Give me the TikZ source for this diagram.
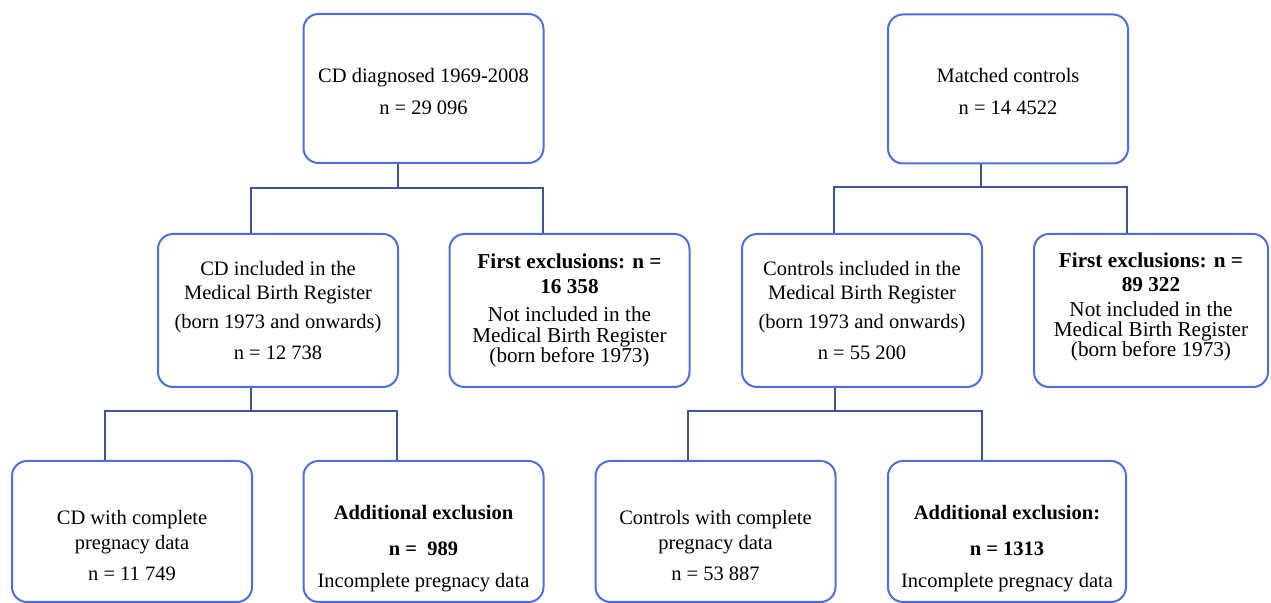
\documentclass[tikz,border=0pt]{standalone}
\usepackage{fontspec}
\setmainfont{Liberation Serif}
\usepackage{tikz}
\usetikzlibrary{positioning,calc}
\definecolor{FrameBlue}{RGB}{78,112,214}
\definecolor{LinkBlue}{RGB}{62,86,152}
\newcommand{\dropby}[1]{\rule{0pt}{#1}}

\begin{document}
\begin{tikzpicture}[x=0.5pt,y=-0.5pt,
  box/.style={draw=FrameBlue,line width=1pt,rounded corners=7.5pt,fill=white,
    align=center,minimum width=120pt,font=\fontsize{10.25}{12}\selectfont},
  link/.style={draw=LinkBlue,line width=1pt}]
  \useasboundingbox (0,0) rectangle (1271,603);
  % top row
  \node[box,minimum height=74.5pt] (cdall) at (423.5,88.5)
        {\dropby{10pt}CD diagnosed 1969-2008\\[4pt] n = 29 096};
  \node[box,minimum height=74.5pt] (ctrlall) at (1008,89)
        {\dropby{10pt}Matched controls\\[4pt] n = 14 4522};
  % middle row
  \node[box,minimum height=76.5pt] (cdmbr) at (278,310.5)
        {CD included in the\\ Medical Birth Register\\[2.5pt]
         (born 1973 and onwards)\\[3.5pt] n = 12 738};
  \node[box,minimum height=76.5pt,font=\fontsize{10.6}{12}\selectfont] (cdexcl) at (569.5,310.5)
        {\textbf{First exclusions: n =}\\[0.5pt] \textbf{16 358}\\[2pt]
         Not included in the\\[-1.8pt] Medical Birth Register\\[-1.8pt] (born before 1973)};
  \node[box,minimum height=76.5pt] (ctrlmbr) at (862,310.5)
        {Controls included in the\\ Medical Birth Register\\[2.5pt]
         (born 1973 and onwards)\\[3.5pt] n = 55 200};
  \node[box,minimum height=76.5pt,minimum width=117pt,font=\fontsize{10.6}{12}\selectfont] (ctrlexcl) at (1151,310.5)
        {\textbf{First exclusions: n =}\\ \textbf{89 322}\\[0.5pt]
         Not included in the\\[-2pt] Medical Birth Register\\[-2pt] (born before 1973)\\[-6pt]\mbox{}};
  % bottom row
  \node[box,minimum height=70.5pt] (cdfull) at (132,531.5)
        {\dropby{21pt}CD with complete\\[0.5pt] pregnacy data\\[3.5pt] n = 11 749};
  \node[box,minimum height=70.5pt] (cdmiss) at (423.5,531.5)
        {\dropby{24pt}\textbf{Additional exclusion}\\[6pt] \textbf{n =\ \ 989}\\[4pt]
         Incomplete pregnacy data};
  \node[box,minimum height=70.5pt] (ctrlfull) at (715.5,531.5)
        {\dropby{21pt}Controls with complete\\[0.5pt] pregnacy data\\[3.5pt] n = 53 887};
  \node[box,minimum height=70.5pt,minimum width=119pt] (ctrlmiss) at (1007,531.5)
        {\dropby{24pt}\textbf{Additional exclusion:}\\[6pt] \textbf{n = 1313}\\[4pt]
         Incomplete pregnacy data};
  % connectors
  \coordinate (cdjoin) at (398,188);
  \coordinate (cdbarL) at (251,188);
  \coordinate (cdbarR) at (543,188);
  \draw[link] (cdall.south -| cdjoin) -- (cdjoin);
  \draw[link] (cdmbr.north -| cdbarL) -- (cdbarL) -- (cdbarR) -- (cdexcl.north -| cdbarR);
  \coordinate (ctrljoin) at (981,187);
  \coordinate (ctrlbarL) at (834,187);
  \coordinate (ctrlbarR) at (1127,187);
  \draw[link] (ctrlall.south -| ctrljoin) -- (ctrljoin);
  \draw[link] (ctrlmbr.north -| ctrlbarL) -- (ctrlbarL) -- (ctrlbarR) -- (ctrlexcl.north -| ctrlbarR);
  \coordinate (cdsub) at (251,411);
  \coordinate (cdsubL) at (105,411);
  \coordinate (cdsubR) at (397,411);
  \draw[link] (cdmbr.south -| cdsub) -- (cdsub);
  \draw[link] (cdfull.north -| cdsubL) -- (cdsubL) -- (cdsubR) -- (cdmiss.north -| cdsubR);
  \coordinate (ctrlsub) at (835,411);
  \coordinate (ctrlsubL) at (688,411);
  \coordinate (ctrlsubR) at (982,411);
  \draw[link] (ctrlmbr.south -| ctrlsub) -- (ctrlsub);
  \draw[link] (ctrlfull.north -| ctrlsubL) -- (ctrlsubL) -- (ctrlsubR) -- (ctrlmiss.north -| ctrlsubR);
\end{tikzpicture}
\end{document}
